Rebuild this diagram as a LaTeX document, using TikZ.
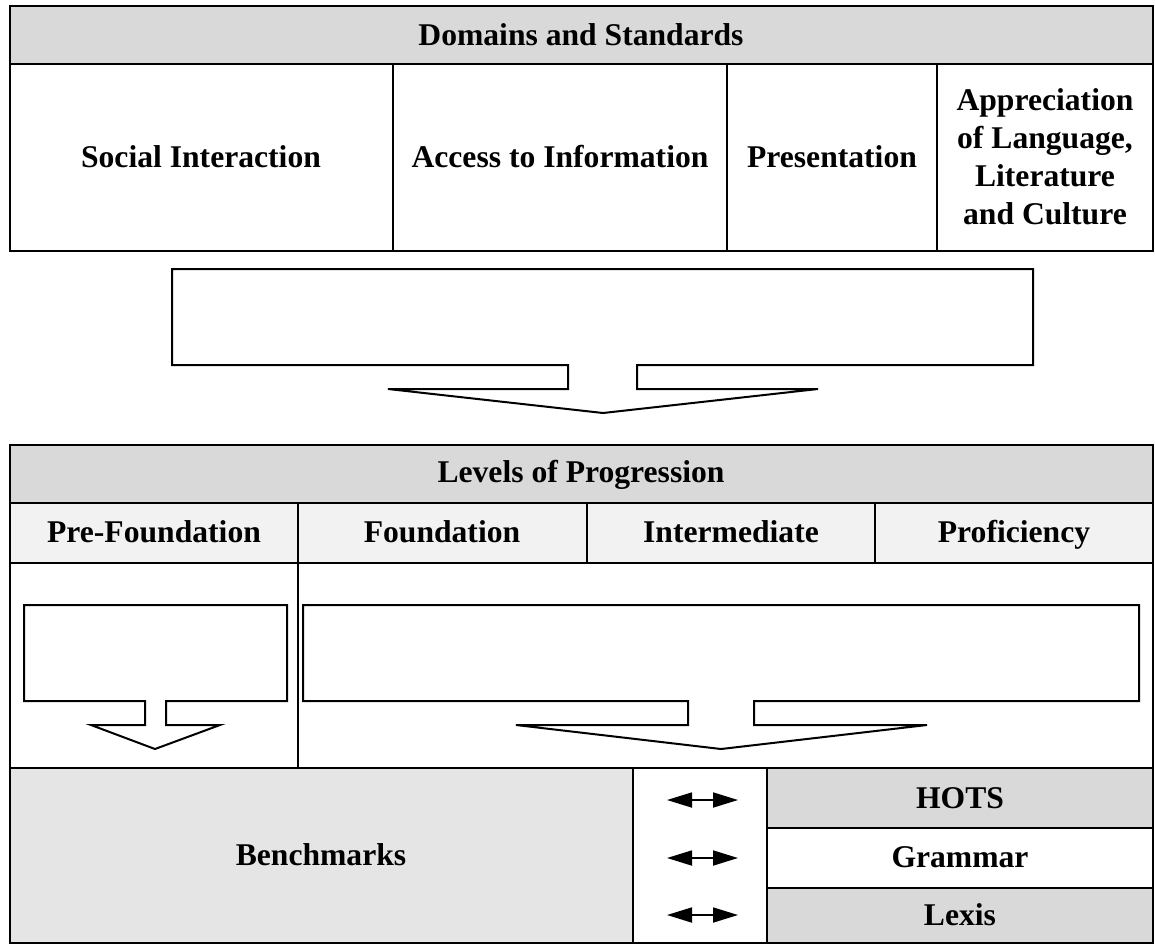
\documentclass[tikz,border=0pt]{standalone}
\usepackage{fontspec}
\setmainfont{Liberation Serif}
\usetikzlibrary{arrows.meta}

\definecolor{hdrgray}{HTML}{D9D9D9}
\definecolor{rowgray}{HTML}{F2F2F2}
\definecolor{benchgray}{HTML}{E5E5E5}

\tikzset{
    cell/.style = {draw, line width = 0.05cm},
    label/.style = {font = \bfseries\fontsize{18}{21.6}\selectfont, align = center, text height = 13.5pt, text depth = 1.7pt},
    multilabel/.style = {font = \bfseries\fontsize{18}{21.6}\selectfont, align = center},
    callout/.style = {draw, line width = 0.04cm, line join = miter},
    link/.style = {line width = 0.035cm, {Triangle[length = 0.5cm, width = 0.3cm]}-{Triangle[length = 0.5cm, width = 0.3cm]}}
}

\begin{document}
\begin{tikzpicture}[x = 0.02cm, y = -0.02cm]
        \useasboundingbox (0, 0) rectangle (1155, 943);

        % domains table
        \draw[cell, fill = hdrgray] (10, 6) rectangle (1153, 64);
        \draw[cell] (10, 64) rectangle (1153, 251);
        \draw[cell] (393, 64) -- (393, 251);
        \draw[cell] (727, 64) -- (727, 251);
        \draw[cell] (937, 64) -- (937, 251);
        \node[label] (domains) at (581, 35) {Domains and Standards};
        \node[label] (social) at (201, 157) {Social Interaction};
        \node[label] (access) at (560, 157) {Access to Information};
        \node[label] (present) at (832, 157) {Presentation};
        \node[multilabel] (apprec) at (1045, 157) {Appreciation\\of Language,\\Literature\\and Culture};

        % first callout
        \draw[callout] (172, 269) -- (1033, 269) -- (1033, 365) -- (637, 365) -- (637, 389) -- (818, 389)
            -- (603, 413) -- (388, 389) -- (568, 389) -- (568, 365) -- (172, 365) -- cycle;

        % levels table
        \draw[cell, fill = hdrgray] (10, 445) rectangle (1153, 503);
        \draw[cell, fill = rowgray] (10, 503) rectangle (1153, 563);
        \draw[cell] (10, 563) rectangle (1153, 768);
        \draw[cell] (298, 503) -- (298, 768);
        \draw[cell] (587, 503) -- (587, 563);
        \draw[cell] (875, 503) -- (875, 563);
        \node[label] (levels) at (581, 472) {Levels of Progression};
        \node[label] (prefound) at (154, 532) {Pre-Foundation};
        \node[label] (found) at (442, 532) {Foundation};
        \node[label] (inter) at (731, 532) {Intermediate};
        \node[label] (profic) at (1014, 532) {Proficiency};

        % callouts inside levels table
        \draw[callout] (24, 605) -- (287, 605) -- (287, 701) -- (166, 701) -- (166, 725) -- (220, 725)
            -- (155, 749) -- (91, 725) -- (145, 725) -- (145, 701) -- (24, 701) -- cycle;
        \draw[callout] (303, 605) -- (1139, 605) -- (1139, 701) -- (754, 701) -- (754, 725) -- (927, 725)
            -- (721, 749) -- (516, 725) -- (688, 725) -- (688, 701) -- (303, 701) -- cycle;

        % benchmarks row
        \draw[cell, fill = benchgray] (10, 768) rectangle (633, 943);
        \draw[cell] (633, 768) rectangle (767, 943);
        \draw[cell, fill = hdrgray] (767, 768) rectangle (1153, 828);
        \draw[cell] (767, 828) rectangle (1153, 888);
        \draw[cell, fill = hdrgray] (767, 888) rectangle (1153, 943);
        \node[label] (bench) at (321, 855) {Benchmarks};
        \node[label] (hots) at (960, 798) {HOTS};
        \node[label] (grammar) at (960, 857) {Grammar};
        \node[label] (lexis) at (960, 915) {Lexis};

        \coordinate (hotsL) at (667, 800);
        \coordinate (hotsR) at (738, 800);
        \coordinate (gramL) at (667, 858);
        \coordinate (gramR) at (738, 858);
        \coordinate (lexL) at (667, 915);
        \coordinate (lexR) at (738, 915);
        \draw[link] (hotsL) -- (hotsR);
        \draw[link] (gramL) -- (gramR);
        \draw[link] (lexL) -- (lexR);
      \end{tikzpicture}
\end{document}
